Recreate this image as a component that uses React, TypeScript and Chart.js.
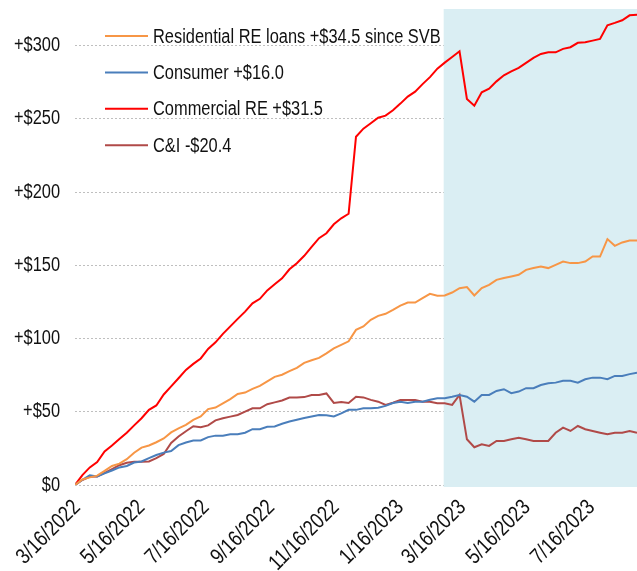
import React, { useEffect, useRef } from 'react';
import { Chart, registerables } from 'chart.js';

Chart.register(...registerables);

const START_DATE = '3/16/2022';
const WEEK_COUNT = 77;
const SVB_SHADE_START = '2/28/2023';
const X_TICK_LABELS = ['3/16/2022', '5/16/2022', '7/16/2022', '9/16/2022', '11/16/2022', '1/16/2023', '3/16/2023', '5/16/2023', '7/16/2023'];
const Y_TICKS = [0, 50, 100, 150, 200, 250, 300];
const Y_TICK_LABELS = ['$0', '+$50', '+$100', '+$150', '+$200', '+$250', '+$300'];
const Y_MAX = 325;

const SERIES_LABELS = [
  'Residential RE loans +$34.5 since SVB',
  'Consumer +$16.0',
  'Commercial RE +$31.5',
  'C&I -$20.4',
];
const SERIES_COLORS = ['#F79646', '#4A7EBB', '#FF0000', '#B04A48'];

const RESIDENTIAL = [
  0, 3.8, 5.2, 6.4, 9.6, 13, 14.6, 17.6, 22, 25.5, 27,
  29.2, 31.8, 35.9, 38.7, 41, 44.4, 46.8, 51.8, 52.9, 55.8,
  58.6, 62.2, 63.1, 65.6, 67.7, 70.7, 73.8, 75.3, 77.7, 80,
  83.4, 85.2, 86.8, 89.9, 93.3, 95.7, 98.1, 105.9, 108.3, 112.8,
  115.5, 116.9, 119.6, 122.5, 124.6, 124.6, 127.6, 130.5, 129.2, 129.4,
  131.4, 134.4, 135.1, 129.4, 134.4, 136.7, 140.1, 141.3, 142.4, 143.5,
  146.9, 148.1, 149.2, 148.1, 150.3, 152.6, 151.5, 151.5, 152.6, 156,
  156, 167.9, 163.3, 165.6, 166.9, 166.9,
];
const CONSUMER = [
  0, 3.6, 6.6, 5.8, 7.9, 9.9, 12, 13, 15.3, 16.1, 18.3,
  20.5, 22.1, 23.2, 27.2, 29, 30.3, 30.4, 32.7, 33.7, 33.7,
  34.6, 34.6, 35.7, 38.1, 38.1, 39.8, 40, 41.8, 43.4, 44.6,
  45.8, 46.8, 47.8, 47.6, 46.8, 48.9, 51.3, 51.3, 52.4, 52.4,
  52.8, 54, 56, 56.9, 56, 56.9, 56.9, 58.2, 59.2, 59.3,
  60.3, 61.5, 60.3, 56.9, 61.5, 61.5, 64.2, 65.4, 62.7, 63.8,
  66.1, 66.1, 68.3, 69.5, 69.9, 71.1, 71.1, 69.9, 72.2, 73.3,
  73.3, 72.2, 74.5, 74.5, 75.7, 76.7,
];
const COMMERCIAL = [
  0, 6.8, 12, 15.7, 22.9, 26.9, 31.4, 35.7, 40.7, 45.6, 51.3,
  54.3, 61.8, 67.3, 72.9, 78.6, 82.7, 86.4, 92.9, 97.4, 103.2,
  108.3, 113.4, 118.4, 124, 127.1, 132.9, 137, 141.1, 147.3, 151.4,
  156.5, 162.6, 168.5, 171.9, 178, 182.1, 185.2, 237.8, 243.3, 247,
  250.8, 252.2, 255.9, 260.4, 265.2, 268.6, 273.7, 278.5, 284.3, 288.4,
  292.2, 296.1, 263.6, 259, 268.1, 270.6, 275.6, 279.7, 282.4, 284.8,
  288.2, 291.6, 294.3, 295.4, 295.4, 297.8, 298.9, 301.9, 302.3, 303.4,
  304.6, 313.9, 315.5, 317.3, 320.7, 321,
];
const CNI = [
  0, 3.4, 5.7, 5.8, 8.3, 10.9, 13.5, 15.2, 15.9, 15.9, 16.1,
  18.3, 21.2, 28.7, 33.1, 36.7, 40.1, 39.5, 40.7, 44.1, 45.6,
  46.7, 47.8, 50.1, 52.4, 52.4, 55.2, 56.4, 57.7, 59.7, 59.7,
  60, 61.5, 61.5, 62.5, 56, 56.7, 56, 60.3, 59.8, 58.1,
  56.9, 54.7, 56.2, 58.1, 58.1, 58.1, 56.9, 56.9, 55.8, 55.8,
  54.7, 61.5, 31.2, 25.8, 27.8, 26.7, 30.1, 30.1, 31.2, 32.3,
  31.2, 30.1, 30.1, 30.1, 35.7, 39.2, 36.9, 40.3, 38.1, 36.9,
  35.7, 34.6, 35.7, 35.7, 36.9, 35.7,
];

const SERIES_VALUES = [RESIDENTIAL, CONSUMER, COMMERCIAL, CNI];

const FONT_FAMILY = "'Liberation Sans', Arial, sans-serif";
const NARROW = 0.82;
const TEXT_COLOR = '#111111';
const SHADE_COLOR = '#DAEEF3';

const DAY_MS = 86400000;
function parseDate(s: string): number {
  const [m, d, y] = s.split('/').map(Number);
  return Date.UTC(y, m - 1, d);
}
function dayOffset(s: string): number {
  return Math.round((parseDate(s) - parseDate(START_DATE)) / DAY_MS);
}
const WEEK_DAYS = Array.from({ length: WEEK_COUNT }, (_, i) => i * 7);
const X_TICK_DAYS = X_TICK_LABELS.map(dayOffset);

// draw text with a condensed (narrow) look
function narrowText(ctx: CanvasRenderingContext2D, text: string, x: number, y: number, size: number, align: CanvasTextAlign, angle = 0) {
  ctx.save();
  ctx.translate(x, y);
  if (angle) ctx.rotate(angle);
  ctx.scale(NARROW, 1);
  ctx.font = `${size}px ${FONT_FAMILY}`;
  ctx.fillStyle = TEXT_COLOR;
  ctx.textAlign = align;
  ctx.textBaseline = 'middle';
  ctx.fillText(text, 0, 0);
  ctx.restore();
}

const shadePlugin = {
  id: 'svbShade',
  beforeDatasetsDraw(chart: any) {
    const { ctx, chartArea, scales } = chart;
    const x0 = scales.x.getPixelForValue(dayOffset(SVB_SHADE_START));
    ctx.save();
    ctx.fillStyle = SHADE_COLOR;
    ctx.fillRect(x0, chartArea.top, chartArea.right - x0, chartArea.bottom - chartArea.top + 2);
    ctx.restore();
  },
};

const textPlugin = {
  id: 'narrowLabels',
  afterDraw(chart: any) {
    const { ctx, chartArea, scales } = chart;
    // y-axis labels
    Y_TICKS.forEach((v, i) => {
      narrowText(ctx, Y_TICK_LABELS[i], chartArea.left - 15, scales.y.getPixelForValue(v), 20, 'right');
    });
    // x-axis labels, rotated 45 degrees
    X_TICK_DAYS.forEach((d, i) => {
      narrowText(ctx, X_TICK_LABELS[i], scales.x.getPixelForValue(d) + 2, chartArea.bottom + 19, 22, 'right', -Math.PI / 4);
    });
    // legend inside plot
    chart.data.datasets.forEach((ds: any, i: number) => {
      const y = chartArea.top + 27 + i * 36.4;
      const x = chartArea.left + 30;
      ctx.save();
      ctx.strokeStyle = ds.borderColor;
      ctx.lineWidth = 2;
      ctx.beginPath();
      ctx.moveTo(x, y);
      ctx.lineTo(x + 43, y);
      ctx.stroke();
      ctx.restore();
      narrowText(ctx, ds.label, x + 48, y + 1, 20, 'left');
    });
  },
};

export default function App() {
  const canvasRef = useRef<HTMLCanvasElement | null>(null);

  useEffect(() => {
    if (!canvasRef.current) return;
    const datasets = SERIES_LABELS.map((label, i) => ({
      label,
      data: SERIES_VALUES[i].map((v, j) => ({ x: WEEK_DAYS[j], y: v })),
      borderColor: SERIES_COLORS[i],
      backgroundColor: SERIES_COLORS[i],
      borderWidth: 2,
      pointRadius: 0,
      tension: 0,
      fill: false,
    }));
    const chart = new Chart(canvasRef.current, {
      type: 'line',
      data: { datasets },
      plugins: [shadePlugin, textPlugin],
      options: {
        animation: false,
        responsive: false,
        maintainAspectRatio: false,
        layout: { padding: { top: 9, left: 0, right: 0, bottom: 0 } },
        plugins: { legend: { display: false }, tooltip: { enabled: false } },
        scales: {
          x: {
            type: 'linear',
            min: 0,
            max: WEEK_DAYS[WEEK_DAYS.length - 1],
            afterBuildTicks: (scale: any) => {
              scale.ticks = X_TICK_DAYS.map((v) => ({ value: v }));
            },
            afterFit: (scale: any) => {
              scale.height = 86;
              scale.paddingLeft = 0;
              scale.paddingRight = 0;
              scale.paddingTop = 0;
              scale.paddingBottom = 0;
            },
            grid: { display: false, drawTicks: false },
            border: { display: false },
            ticks: { display: false },
          },
          y: {
            min: 0,
            max: Y_MAX,
            afterBuildTicks: (scale: any) => {
              scale.ticks = Y_TICKS.map((v) => ({ value: v }));
            },
            afterFit: (scale: any) => {
              scale.width = 75;
              scale.paddingLeft = 0;
              scale.paddingRight = 0;
              scale.paddingTop = 0;
              scale.paddingBottom = 0;
            },
            grid: { color: '#BFBFBF', lineWidth: 1, drawTicks: false },
            border: { display: false, dash: [2, 2] },
            ticks: { display: false },
          },
        },
      },
    });
    return () => chart.destroy();
  }, []);

  return (
    <div style={{ position: 'absolute', left: 0, top: 0, width: 637, height: 571, background: '#fff' }}>
      <canvas ref={canvasRef} width={637} height={571} />
    </div>
  );
}
